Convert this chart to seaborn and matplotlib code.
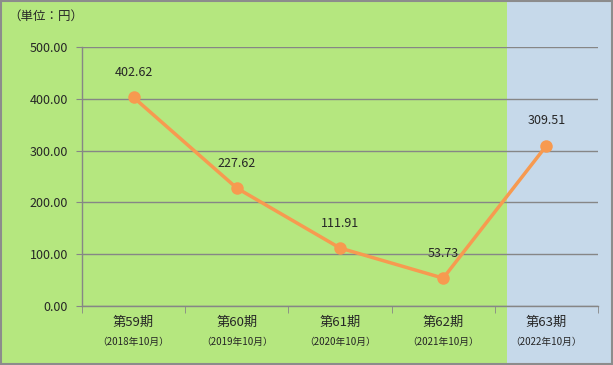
import matplotlib.pyplot as plt
import matplotlib.transforms as mtransforms
from matplotlib.patches import Rectangle
import seaborn as sns
import pandas as pd

# data
periods = ['第59期', '第60期', '第61期', '第62期', '第63期']
dates = ['（2018年10月）', '（2019年10月）', '（2020年10月）', '（2021年10月）', '（2022年10月）']
values = [402.62, 227.62, 111.91, 53.73, 309.51]
y_ticks = [0, 100, 200, 300, 400, 500]

df = pd.DataFrame({'pos': range(len(periods)), 'value': values})

sns.set_style('white')
plt.rcParams['font.family'] = ['Noto Sans CJK JP', 'DejaVu Sans']

green = '#B5E77F'
blue = '#C6D9EA'
orange = '#F79A50'
grid_col = '#868686'

fig = plt.figure(figsize=(6.13, 3.65), dpi=100)
fig.patch.set_facecolor(green)
# light blue band behind the latest period
fig.patches.append(Rectangle((507 / 613, 0), 1 - 507 / 613, 1, transform=fig.transFigure,
                             facecolor=blue, edgecolor='none', zorder=0))
fig.patches.append(Rectangle((0.001, 0.002), 0.997, 0.996, transform=fig.transFigure,
                             facecolor='none', edgecolor='#8C8C8C', lw=1.5, zorder=5))

ax = fig.add_axes([82 / 613, 1 - 306 / 365, (598 - 82) / 613, (306 - 47) / 365])
ax.set_facecolor('none')
ax.set_zorder(2)

sns.lineplot(data=df, x='pos', y='value', ax=ax, color=orange, lw=2.5,
             marker='o', markersize=9, markeredgewidth=0, zorder=3)

ax.set_xlim(-0.5, len(periods) - 0.5)
ax.set_ylim(0, 500)
ax.set_yticks(y_ticks)
ax.set_yticklabels([f'{v:.2f}' for v in y_ticks], fontsize=9)
ax.yaxis.grid(True, color=grid_col, lw=1)
ax.set_axisbelow(True)
ax.tick_params(axis='y', length=4, color=grid_col, pad=6, left=True)

ax.set_xticks(range(len(periods)))
ax.set_xticklabels([])
ax.tick_params(axis='x', length=0)
ax.set_xticks([i + 0.5 for i in range(-1, len(periods))], minor=True)
ax.tick_params(axis='x', which='minor', length=5, color=grid_col, bottom=True)

for side in ['top', 'right']:
    ax.spines[side].set_visible(False)
for side in ['left', 'bottom']:
    ax.spines[side].set_color(grid_col)
    ax.spines[side].set_linewidth(1)

ax.set_xlabel('')
ax.set_ylabel('')

trans = mtransforms.blended_transform_factory(ax.transData, ax.transAxes)
for i, (p, d) in enumerate(zip(periods, dates)):
    ax.text(i, -0.065, p, transform=trans, ha='center', va='center', fontsize=9.5)
    ax.text(i, -0.14, d, transform=trans, ha='center', va='center', fontsize=7)

for i, v in enumerate(values):
    ax.annotate(f'{v:.2f}', (i, v), xytext=(0, 18), textcoords='offset points',
                ha='center', va='center', fontsize=9)

fig.text(8 / 613, 1 - 16 / 365, '（単位：円）', ha='left', va='center', fontsize=9)

fig.savefig('out.png', dpi=100, facecolor=fig.get_facecolor())
